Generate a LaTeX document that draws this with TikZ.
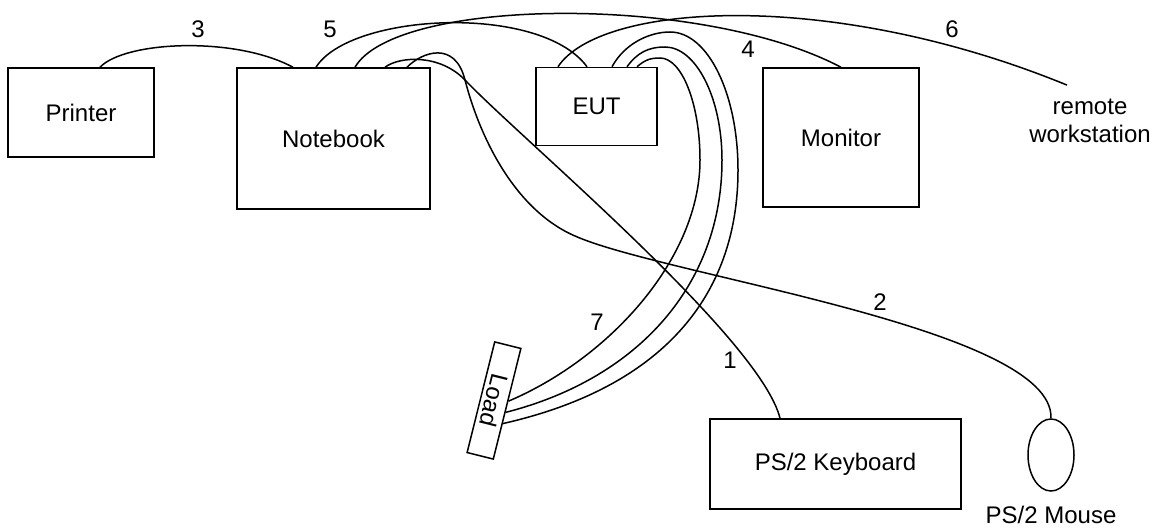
\documentclass[tikz,border=0pt]{standalone}
\usepackage{fontspec}
\setmainfont{Liberation Sans}
\usepackage{tikz}
\usetikzlibrary{calc,positioning,shapes.geometric}
\tikzset{unit/.style={draw,line width=1.5pt,align=center,inner sep=0pt},puck/.style={ellipse,draw,line width=1.5pt,minimum width=46,minimum height=72,inner sep=0pt},cable/.style={line width=1.5pt},num/.style={inner sep=0pt}}

\begin{document}
\begin{tikzpicture}[x=1pt,y=1pt,font=\fontsize{24}{28}\selectfont]
      \useasboundingbox (0,0) rectangle (1154,528);
      \node[unit,minimum width=146,minimum height=89](printer) at (81,415.5){Printer};
      \node[unit,minimum width=193,minimum height=141](notebook) at (333.5,389.5){Notebook};
      \node[unit,minimum width=121,minimum height=78](eut) at (596.5,421.5){EUT};
      \node[unit,minimum width=156,minimum height=139](monitor) at (841,390.5){Monitor};
      \node[unit,minimum width=251,minimum height=90](keyboard) at (835.5,64){PS/2 Keyboard};
      \node[puck](mouse) at (1051,73){};
      \node[num,below=14pt of mouse](mouselabel){PS/2 Mouse};
      \node[align=center](remote) at (1090,407.5){remote\\workstation};
      \node[unit,rotate=-104,minimum width=114,minimum height=27](load) at (494,127.5){Load};
      % cable numbers
      \node[num](n1) at (730,168){1};
      \node[num](n2) at (880,226){2};
      \node[num](n3) at (198,499){3};
      \node[num](n4) at (748,479){4};
      \node[num](n5) at (330,499){5};
      \node[num](n6) at (952,499){6};
      \node[num](n7) at (597,206){7};
      % cables
      \draw[cable]([xshift=19]printer.north) .. controls (125,487) and (235,492) .. ([xshift=-40.5]notebook.north);
      \draw[cable]([xshift=-17.5]notebook.north) .. controls (350,515) and (540,525) .. ([xshift=-9.5]eut.north);
      \draw[cable]([xshift=21.5]notebook.north) .. controls (395,530) and (700,535) .. (monitor.north);
      \draw[cable]([xshift=-38.5]eut.north) .. controls (600,525) and (830,540) .. ([xshift=-23,yshift=10]remote.north);
      \draw[cable]([xshift=51.5]notebook.north) .. controls (400,472) and (440,474) .. (465,448) .. controls (520,390) and (760,190) .. ([xshift=-55.5]keyboard.north);
      \draw[cable]([xshift=73.5]notebook.north) .. controls (422,476) and (455,488) .. (465,448) .. controls (480,390) and (515,318) .. (575,292) .. controls (665,252) and (1054,200) .. (mouse.north);
      \draw[cable]([xshift=15.5]eut.north) .. controls (625,485) and (650,496) .. (670,496) .. controls (708,496) and (738,434) .. (738,358) .. controls (738,230) and (660,140) .. ($(load.north)!.35!(load.north east)$);
      \draw[cable]([xshift=30.5]eut.north) .. controls (637,475) and (648,481) .. (665,481) .. controls (696,481) and (722,430) .. (722,368) .. controls (722,245) and (640,150) .. ($(load.north)!.15!(load.north east)$);
      \draw[cable]([xshift=40.5]eut.north) .. controls (645,468) and (650,470) .. (660,470) .. controls (682,470) and (700,424) .. (700,368) .. controls (700,270) and (610,170) .. ($(load.north)!-.05!(load.north east)$);
    \end{tikzpicture}
\end{document}
